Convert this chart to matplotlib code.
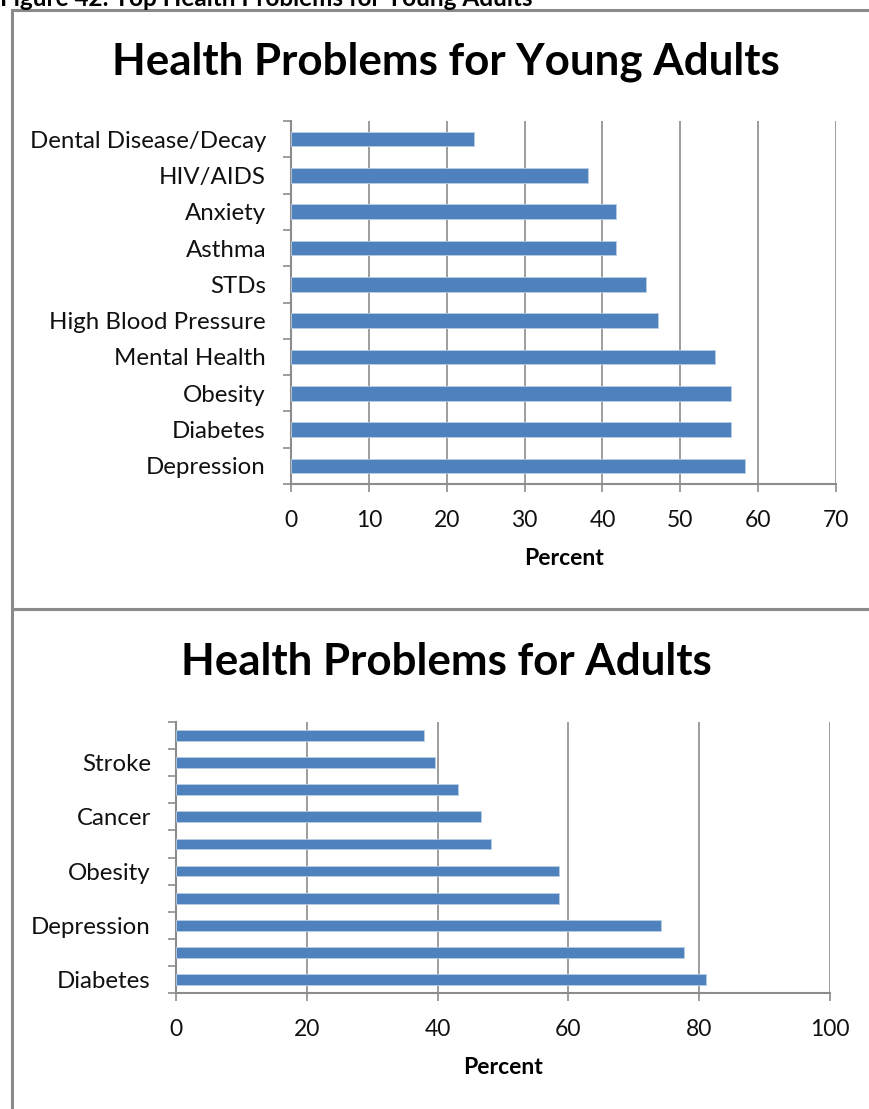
#!/usr/bin/env python3
"""
Health problems for young adults and adults, two Excel-style bar charts
"""

import matplotlib

matplotlib.use("Agg")
import matplotlib.pyplot as plt
from matplotlib.patches import Rectangle

plt.rcParams["font.family"] = ["Lato", "DejaVu Sans"]

# ---- data (listed bottom to top, as barh draws them) ----
young_labels = [
    "Depression",
    "Diabetes",
    "Obesity",
    "Mental Health",
    "High Blood Pressure",
    "STDs",
    "Asthma",
    "Anxiety",
    "HIV/AIDS",
    "Dental Disease/Decay",
]
young_values = [58.3, 56.5, 56.5, 54.5, 47.2, 45.6, 41.8, 41.8, 38.1, 23.5]
young_ticks = [0, 10, 20, 30, 40, 50, 60, 70]

# Excel only printed every other category name on the adult chart
adult_labels = ["Diabetes", "", "Depression", "", "Obesity", "", "Cancer", "", "Stroke", ""]
adult_values = [81.0, 77.6, 74.1, 58.6, 58.6, 48.2, 46.6, 43.1, 39.6, 37.9]
adult_ticks = [0, 20, 40, 60, 80, 100]

caption = "Figure 42: Top Health Problems for Young Adults"
title_young = "Health Problems for Young Adults"
title_adult = "Health Problems for Adults"

W, H = 870, 1109
BAR = "#4F81BD"
GRID = "#8C8C8C"
FRAME = "#8A8A8A"


def fx(px):
    return px / W


def fy(py):
    return 1 - py / H


def style_axis(ax, labels, values, ticks):
    pos = list(range(len(values)))
    ax.barh(pos, values, height=0.4, color=BAR, edgecolor="#B9CDE5", lw=0.6, zorder=3)
    ax.set_ylim(-0.5, len(values) - 0.5)
    ax.set_xlim(ticks[0], ticks[-1])
    ax.set_xticks(ticks)
    ax.set_yticks(pos)
    ax.set_yticklabels(labels, fontsize=17.3, color="#111111")
    ax.set_yticks([p - 0.5 for p in pos] + [len(values) - 0.5], minor=True)
    ax.tick_params(axis="y", which="major", length=0, pad=18)
    ax.tick_params(axis="y", which="minor", length=6, width=1.2, color=GRID, direction="out")
    ax.tick_params(axis="x", which="major", length=6, width=1.2, color=GRID, pad=13,
                   labelsize=16.5, labelcolor="#111111")
    ax.grid(True, axis="x", color=GRID, lw=1.2, zorder=0)
    for side in ("top", "right"):
        ax.spines[side].set_visible(False)
    for side in ("left", "bottom"):
        ax.spines[side].set_color(GRID)
        ax.spines[side].set_linewidth(1.5)
    ax.set_xlabel("Percent", fontsize=16.5, fontweight="bold", labelpad=12)


fig = plt.figure(figsize=(W / 100, H / 100), dpi=100)

# chart frames as Excel drew them
fig.add_artist(Rectangle((fx(12), fy(609)), 1.0, fy(10) - fy(609), transform=fig.transFigure,
                         fill=False, ec=FRAME, lw=2.2))
fig.add_artist(Rectangle((fx(12), -0.05), 1.0, fy(609) + 0.05, transform=fig.transFigure,
                         fill=False, ec=FRAME, lw=2.2))

# caption sits mostly above the visible page, as in the source scan
fig.text(0.0, fy(6), caption, fontsize=17.5, fontweight="bold", va="baseline", ha="left")

ax1 = fig.add_axes([fx(291), fy(484), fx(836) - fx(291), fy(121) - fy(484)])
style_axis(ax1, young_labels, young_values, young_ticks)
fig.text(fx(446), fy(62), title_young, fontsize=31.6, fontweight="bold", ha="center", va="center")

ax2 = fig.add_axes([fx(176), fy(993), fx(830) - fx(176), fy(722) - fy(993)])
style_axis(ax2, adult_labels, adult_values, adult_ticks)
fig.text(fx(446), fy(662), title_adult, fontsize=31.6, fontweight="bold", ha="center", va="center")

fig.savefig("out.png", dpi=100)
print("saved out.png")
